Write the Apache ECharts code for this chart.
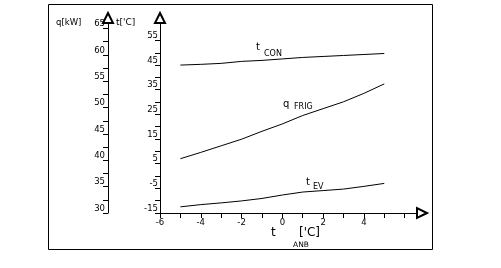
<!DOCTYPE html>
<html>
<head>
<meta charset="utf-8">
<script src="https://cdn.jsdelivr.net/npm/echarts@6/dist/echarts.min.js"></script>
<style>html,body{margin:0;padding:0;background:#fff}#c{width:501px;height:268px}</style>
</head>
<body>
<div id="c"></div>
<script>
const xValues = [-5, -4, -3, -2, -1, 0, 1, 2, 3, 4, 5];
const tCon = [45.0, 45.3, 45.7, 46.5, 46.9, 47.5, 48.1, 48.5, 48.9, 49.3, 49.7];
const qFrig = [40.3, 41.5, 42.75, 44.0, 45.5, 46.9, 48.5, 49.8, 51.1, 52.7, 54.5];
const tEv = [-12.5, -11.6, -10.9, -10.1, -9.1, -7.7, -6.5, -5.9, -5.3, -4.2, -3.0];

const xTicks = [-6, -5, -4, -3, -2, -1, 0, 1, 2, 3, 4, 5, 6];
const xLabels = [-6, -4, -2, 0, 2, 4];
const qTicks = [30, 32.5, 35, 37.5, 40, 42.5, 45, 47.5, 50, 52.5, 55, 57.5, 60, 62.5, 65];
const qLabels = [30, 35, 40, 45, 50, 55, 60, 65];
const tTicks = [-15, -10, -5, 0, 5, 10, 15, 20, 25, 30, 35, 40, 45, 50, 55];
const tLabels = [-15, -5, 5, 15, 25, 35, 45, 55];

const FONT = 'DejaVu Sans';
const black = '#000';

const chart = echarts.init(document.getElementById('c'), null, {renderer: 'canvas'});

function toPairs(ys) { return xValues.map((x, i) => [x, ys[i]]); }

const axisLineStyle = {color: black, width: 1};

chart.setOption({
  animation: false,
  backgroundColor: '#fff',
  grid: {left: 160, right: 79, top: 18, bottom: 55},
  xAxis: {
    type: 'value', min: -6, max: 6.85,
    splitLine: {show: false},
    axisLine: {show: true, onZero: false, lineStyle: axisLineStyle, symbol: ['none', 'emptyTriangle'], symbolSize: [10, 10]},
    axisTick: {show: true, length: 5, customValues: xTicks, lineStyle: {color: black}},
    axisLabel: {customValues: xLabels, color: black, fontFamily: FONT, fontSize: 8.5, margin: 5}
  },
  yAxis: [
    {
      type: 'value', min: 30, max: 67, position: 'left', offset: 52,
      splitLine: {show: false},
      axisLine: {show: true, onZero: false, lineStyle: axisLineStyle, symbol: ['none', 'emptyTriangle'], symbolSize: [10, 10]},
      axisTick: {show: true, length: 5, customValues: qTicks, lineStyle: {color: black}},
      axisLabel: {customValues: qLabels, color: black, fontFamily: FONT, fontSize: 8.5, margin: 3, verticalAlign: 'bottom'}
    },
    {
      type: 'value', min: -15, max: 64.1, position: 'left', offset: 0,
      splitLine: {show: false},
      axisLine: {show: true, onZero: false, lineStyle: axisLineStyle, symbol: ['none', 'emptyTriangle'], symbolSize: [10, 10]},
      axisTick: {show: true, length: 5, customValues: tTicks, lineStyle: {color: black}},
      axisLabel: {customValues: tLabels, color: black, fontFamily: FONT, fontSize: 8.5, margin: 2, verticalAlign: 'bottom'}
    }
  ],
  series: [
    {type: 'line', name: 't_CON', yAxisIndex: 1, data: toPairs(tCon), showSymbol: false, symbol: 'none', lineStyle: {color: black, width: 1}},
    {type: 'line', name: 'q_FRIG', yAxisIndex: 0, data: toPairs(qFrig), showSymbol: false, symbol: 'none', lineStyle: {color: black, width: 1}},
    {type: 'line', name: 't_EV', yAxisIndex: 1, data: toPairs(tEv), showSymbol: false, symbol: 'none', lineStyle: {color: black, width: 1}}
  ],
  graphic: [
    {type: 'rect', shape: {x: 48.5, y: 4.5, width: 384, height: 245}, style: {fill: 'none', stroke: black, lineWidth: 1}, silent: true, z: -1},
    {type: 'text', x: 56, y: 18, style: {text: 'q[kW]', font: '8.5px ' + FONT, fill: black}},
    {type: 'text', x: 116, y: 18, style: {text: "t['C]", font: '9px ' + FONT, fill: black}},
    {type: 'text', x: 256, y: 42, style: {text: 't', font: '10px ' + FONT, fill: black}},
    {type: 'text', x: 264, y: 50, style: {text: 'CON', font: '8px ' + FONT, fill: black}},
    {type: 'text', x: 283, y: 99, style: {text: 'q', font: '10px ' + FONT, fill: black}},
    {type: 'text', x: 294, y: 103, style: {text: 'FRIG', font: '8px ' + FONT, fill: black}},
    {type: 'text', x: 306, y: 177, style: {text: 't', font: '10px ' + FONT, fill: black}},
    {type: 'text', x: 313, y: 183, style: {text: 'EV', font: '8px ' + FONT, fill: black}},
    {type: 'text', x: 271, y: 227, style: {text: 't', font: '12px ' + FONT, fill: black}},
    {type: 'text', x: 293, y: 241, style: {text: 'ANB', font: '7.5px ' + FONT, fill: black}},
    {type: 'text', x: 299, y: 227, style: {text: "['C]", font: '12px ' + FONT, fill: black}}
  ]
});
</script>
</body>
</html>
